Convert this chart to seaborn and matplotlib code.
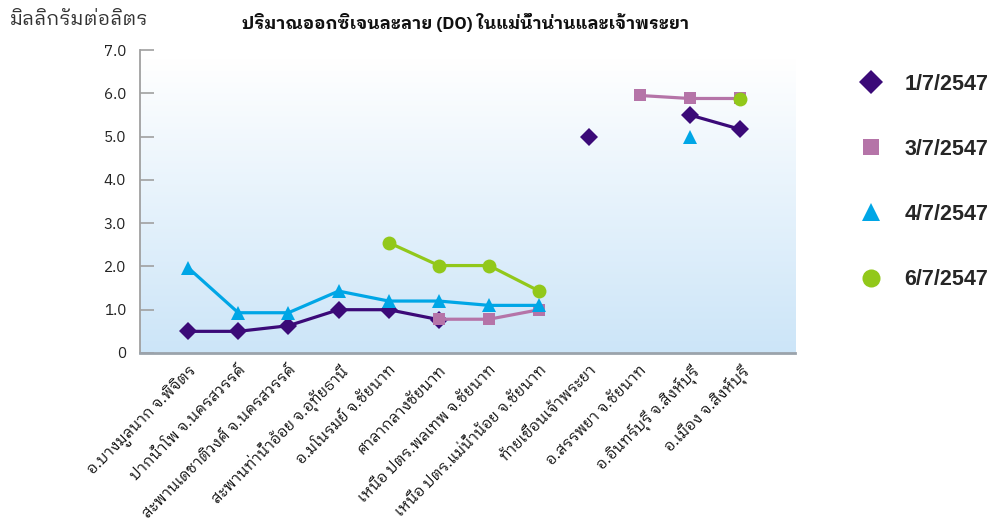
import numpy as np
import pandas as pd
import matplotlib
matplotlib.use("Agg")
import matplotlib.pyplot as plt
import seaborn as sns
from matplotlib.lines import Line2D

# Sampling stations along the Nan and Chao Phraya rivers
stations = [
    "อ.บางมูลนาก จ.พิจิตร",
    "ปากน้ำโพ จ.นครสวรรค์",
    "สะพานเดชาติวงศ์ จ.นครสวรรค์",
    "สะพานท่าน้ำอ้อย จ.อุทัยธานี",
    "อ.มโนรมย์ จ.ชัยนาท",
    "ศาลากลางชัยนาท",
    "เหนือ ปตร.พลเทพ จ.ชัยนาท",
    "เหนือ ปตร.แม่น้ำน้อย จ.ชัยนาท",
    "ท้ายเขื่อนเจ้าพระยา",
    "อ.สรรพยา จ.ชัยนาท",
    "อ.อินทร์บุรี จ.สิงห์บุรี",
    "อ.เมือง จ.สิงห์บุรี",
]

nan = np.nan
# Dissolved oxygen (mg/L) per sampling date; nan = not sampled
do_0107 = [0.50, 0.50, 0.63, 1.00, 1.00, 0.77, nan, nan, 5.00, nan, 5.50, 5.17]
do_0307 = [nan, nan, nan, nan, nan, 0.78, 0.78, 1.00, nan, 5.95, 5.88, 5.88]
do_0407 = [1.97, 0.93, 0.93, 1.43, 1.20, 1.20, 1.10, 1.10, nan, nan, 5.00, nan]
do_0607 = [nan, nan, nan, nan, 2.55, 2.02, 2.02, 1.43, nan, nan, nan, 5.87]

dates = ["1/7/2547", "3/7/2547", "4/7/2547", "6/7/2547"]
series = [do_0107, do_0307, do_0407, do_0607]

y_ticks = [0, 1, 2, 3, 4, 5, 6, 7]
y_tick_labels = ["0", "1.0", "2.0", "3.0", "4.0", "5.0", "6.0", "7.0"]

colors = ["#3b0a78", "#b574a8", "#00a6e6", "#92c81a"]
markers = ["D", "s", "^", "o"]
msizes = [9.5, 9.0, 10.0, 10.0]

sns.set_theme(style="white")
thai = ["IBM Plex Sans Thai Looped", "Noto Sans Thai Looped", "DejaVu Sans"]
plt.rcParams["font.family"] = thai

# Long table; contiguous runs of measurements get their own segment id
rows = []
for date, vals in zip(dates, series):
    seg = 0
    prev_nan = True
    for i, v in enumerate(vals):
        if np.isnan(v):
            prev_nan = True
            continue
        if prev_nan:
            seg += 1
        prev_nan = False
        rows.append({"date": date, "pos": i, "do": v, "seg": seg})
df = pd.DataFrame(rows)

fig = plt.figure(figsize=(9.94, 5.27), dpi=100)
ax = fig.add_axes([0.1408, 0.3302, 0.6590, 0.5749])

x_lo, x_hi = -0.96, 12.1
y_lo, y_hi = 0.0, 7.0

# white-to-light-blue vertical gradient for the plotting area (row 0 = top)
grad = np.linspace(0, 1, 256).reshape(-1, 1)
top = np.array([1.0, 1.0, 1.0])
bot = np.array([204, 229, 248]) / 255.0
t = np.clip((grad - 0.03) / 0.97, 0, 1)
img = top + (bot - top) * t
ax.imshow(img[:, None, :].repeat(2, axis=1), extent=[x_lo, x_hi, y_lo, y_hi],
          origin="upper", aspect="auto", zorder=0, interpolation="bilinear")

for k, date in enumerate(dates):
    sub = df[df["date"] == date]
    sns.lineplot(data=sub, x="pos", y="do", units="seg", estimator=None,
                 color=colors[k], marker=markers[k], markersize=msizes[k],
                 markeredgewidth=0, linewidth=2.3, ax=ax, zorder=3 + k,
                 legend=False)

ax.set_xlim(x_lo, x_hi)
ax.set_ylim(y_lo, y_hi)
ax.set_xlabel("")
ax.set_ylabel("")

ax.set_yticks(y_ticks)
ax.set_yticklabels(y_tick_labels, fontsize=11, color="#222222")
ax.tick_params(axis="y", direction="in", length=10, width=1.2, color="#a0a0a0",
               pad=10, left=True)

ax.set_xticks(range(len(stations)))
ax.set_xticklabels(stations, rotation=45, ha="right", rotation_mode="anchor",
                   fontsize=11, color="#111111")
ax.tick_params(axis="x", length=0, pad=7)

for side in ["top", "right"]:
    ax.spines[side].set_visible(False)
ax.spines["left"].set_color("#a0a0a0")
ax.spines["left"].set_linewidth(1.3)
ax.spines["bottom"].set_color("#9ba3ab")
ax.spines["bottom"].set_linewidth(2.0)

fig.text(0.468, 0.958, "ปริมาณออกซิเจนละลาย (DO) ในแม่น้ำน่านและเจ้าพระยา",
         ha="center", va="center", fontsize=12.5, fontweight="bold", color="#111111")
fig.text(0.01, 0.962, "มิลลิกรัมต่อลิตร", ha="left", va="center",
         fontsize=14, color="#333333")

handles = [Line2D([], [], linestyle="none", marker=m, color=c, markersize=s + 3,
                  markeredgewidth=0)
           for m, c, s in zip(markers, colors, msizes)]
fig.legend(handles, dates, loc="upper left", bbox_to_anchor=(0.846, 0.897),
           frameon=False, labelspacing=2.05, handletextpad=1.05, handlelength=1.0,
           prop={"family": ["Liberation Sans", "DejaVu Sans"], "weight": "bold",
                 "size": 15.5})

fig.savefig("out.png", dpi=100)
